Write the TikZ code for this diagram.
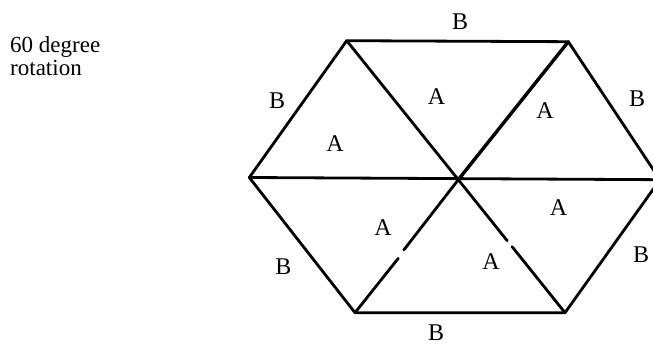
\documentclass[tikz,border=0pt]{standalone}
\usepackage{fontspec}
\setmainfont{Liberation Serif}
\begin{document}
\begin{tikzpicture}[x=1pt,y=-1pt,
  edge/.style={line width=2.8pt,line cap=round,line join=round},
  thickedge/.style={line width=3.4pt,line cap=round},
  lbl/.style={font=\fontsize{24}{24}\selectfont,inner sep=0pt},
  captxt/.style={font=\fontsize{23}{23}\selectfont,inner sep=0pt,anchor=base west}]
\useasboundingbox (0,0) rectangle (653,350);
\fill[white] (0,0) rectangle (653,350);
% vertices
\coordinate (TL) at (346.7,40.7);
\coordinate (TR) at (568.3,41.7);
\coordinate (R)  at (660,179.7);
\coordinate (L)  at (249.3,177.5);
\coordinate (BL) at (355,312.7);
\coordinate (BR) at (565,312.7);
\coordinate (C)  at (458.3,179.7);
\coordinate (g1a) at (403.8,250);
\coordinate (g1b) at (398.3,258.3);
\coordinate (g2a) at (507.2,240.7);
\coordinate (g2b) at (512.1,246.7);
% outline
\draw[edge] (TL) -- (TR) -- (R) -- (BR) -- (BL) -- (L) -- cycle;
% diagonals
\draw[edge] (L) -- (R);
\draw[edge] (TL) -- (C) -- (g2a);
\draw[edge] (g2b) -- (BR);
\draw[thickedge] (TR) -- (C);
\draw[edge] (C) -- (g1a);
\draw[edge] (g1b) -- (BL);
% labels
\node[lbl] (bt)  at (460,22) {B};
\node[lbl] (bul) at (277,101) {B};
\node[lbl] (bur) at (637,99) {B};
\node[lbl] (blr) at (641,255) {B};
\node[lbl] (bll) at (283.5,267) {B};
\node[lbl] (bb)  at (436,333) {B};
\node[lbl] (a1) at (335,144) {A};
\node[lbl] (a2) at (436.5,97) {A};
\node[lbl] (a3) at (545,111) {A};
\node[lbl] (a4) at (558.5,208) {A};
\node[lbl] (a5) at (383,228) {A};
\node[lbl] (a6) at (491,262) {A};
% caption
\node[captxt] (cap1) at (10,53) {60 degree};
\node[captxt] (cap2) at (10,76) {rotation};
\end{tikzpicture}
\end{document}
